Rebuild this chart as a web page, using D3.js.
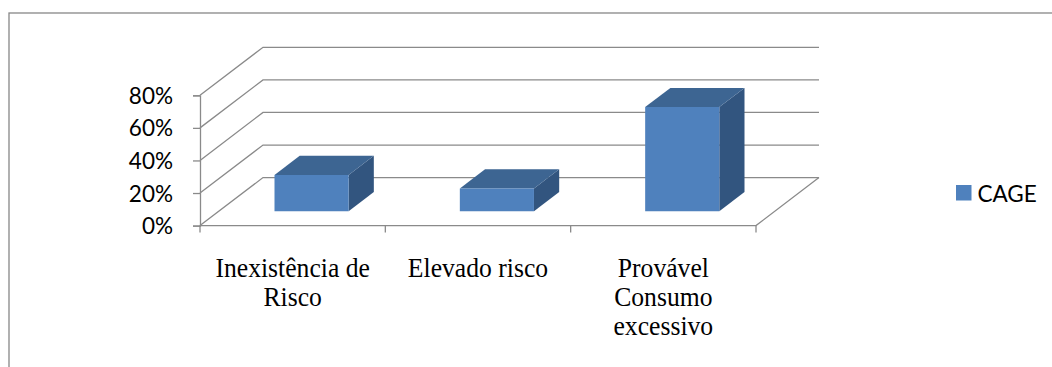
<!DOCTYPE html>
<html>
<head>
<meta charset="utf-8">
<script src="https://cdn.jsdelivr.net/npm/d3@7"></script>
<style>
  html, body { margin: 0; padding: 0; background: #ffffff; }
  svg { display: block; }
</style>
</head>
<body>
<svg id="chart" width="1052" height="367"></svg>
<script>
// Data
const categories = [["Inexistência de", "Risco"], ["Elevado risco"], ["Provável", "Consumo", "excessivo"]];
const categoryKeys = ["Inexistência de Risco", "Elevado risco", "Provável Consumo excessivo"];
const seriesName = "CAGE";
const values = [0.222, 0.139, 0.639];
const yTicks = [0, 0.2, 0.4, 0.6, 0.8];

const svg = d3.select("#chart");

// Colours
const gridColor = "#8a8a8a";
const frontColor = "#4f81bd";
const topColor = "#3d6592";
const sideColor = "#32557f";

// Plot geometry (front plane) and depth offset for the 3D effect
const plotLeft = 200, plotRight = 756;
const depthDX = 63, depthDY = -48;

const x = d3.scaleBand().domain(categoryKeys).range([plotLeft, plotRight]).padding(0);
const y = d3.scaleLinear().domain([0, 0.8]).range([225.6, 95.3]);

// project a front-plane point back by a fraction d of the full depth
const proj = (px, py, d) => [px + d * depthDX, py + d * depthDY];

// outer chart border
svg.append("rect")
  .attr("x", 9).attr("y", 13)
  .attr("width", 1200).attr("height", 500)
  .attr("fill", "none").attr("stroke", "#878787").attr("stroke-width", 1.3);

const grid = svg.append("g")
  .attr("fill", "none")
  .attr("stroke", gridColor)
  .attr("stroke-width", 1.3);

// side wall diagonals and back wall horizontals
yTicks.forEach(v => {
  const a = [plotLeft, y(v)];
  const b = proj(plotLeft, y(v), 1);
  const c = proj(plotRight, y(v), 1);
  grid.append("path").attr("d", d3.line()([a, b, c]));
});

// floor front and right edges
grid.append("path").attr("d", d3.line()([
  [plotLeft, y(0)], [plotRight, y(0)], proj(plotRight, y(0), 1)
]));

// value axis
const yAxis = d3.axisLeft(y).tickValues(yTicks).tickSize(7).tickFormat(d3.format(".0%"));
const yg = svg.append("g").attr("transform", `translate(${plotLeft},0)`).call(yAxis);
yg.select(".domain").attr("stroke", gridColor).attr("stroke-width", 1.3);
yg.selectAll(".tick line").attr("stroke", gridColor).attr("stroke-width", 1.3);
yg.selectAll(".tick text")
  .attr("x", -27)
  .attr("dy", "0.36em")
  .attr("fill", "#000")
  .style("font-family", "Lato, 'Open Sans', sans-serif")
  .style("font-size", "22.5px");

// category ticks at band boundaries
const boundaries = categoryKeys.map(k => x(k)).concat([plotRight]);
svg.append("g").selectAll("line").data(boundaries).join("line")
  .attr("x1", d => d).attr("x2", d => d)
  .attr("y1", y(0)).attr("y2", y(0) + 7)
  .attr("stroke", gridColor).attr("stroke-width", 1.3);

// category labels (slightly condensed serif)
const lab = svg.append("g")
  .style("font-family", "'Liberation Serif', 'Times New Roman', serif")
  .style("font-size", "27px")
  .attr("fill", "#000")
  .attr("text-anchor", "middle");
categories.forEach((lines, i) => {
  const cx = x(categoryKeys[i]) + x.bandwidth() / 2;
  const t = lab.append("text").attr("transform", `translate(${cx},0) scale(0.95,1)`);
  lines.forEach((ln, j) => {
    t.append("tspan").attr("x", 0).attr("y", 277.5 + j * 28.7).text(ln);
  });
});

// bars
const dFront = 0.3, dBack = 0.7;
const bars = svg.append("g");
values.forEach((v, i) => {
  const bw = x.bandwidth();
  const x0 = x(categoryKeys[i]) + 0.3 * bw;
  const x1 = x(categoryKeys[i]) + 0.7 * bw;
  const fl = proj(x0, y(0), dFront), fr = proj(x1, y(0), dFront);
  const tl = proj(x0, y(v), dFront), tr = proj(x1, y(v), dFront);
  const btl = proj(x0, y(v), dBack), btr = proj(x1, y(v), dBack);
  const bbr = proj(x1, y(0), dBack);
  const g = bars.append("g");
  g.append("path").attr("d", d3.line()([tr, btr, bbr, fr]) + "Z").attr("fill", sideColor);
  g.append("path").attr("d", d3.line()([tl, tr, btr, btl]) + "Z").attr("fill", topColor);
  g.append("path").attr("d", d3.line()([tl, tr, fr, fl]) + "Z").attr("fill", frontColor);
});

// legend
const leg = svg.append("g").attr("transform", "translate(956,185)");
leg.append("rect").attr("width", 15.5).attr("height", 15.5).attr("fill", frontColor);
leg.append("text")
  .attr("x", 21.5).attr("y", 16.5)
  .style("font-family", "Lato, 'Open Sans', sans-serif")
  .style("font-size", "22.5px")
  .attr("fill", "#000")
  .text(seriesName);
</script>
</body>
</html>
